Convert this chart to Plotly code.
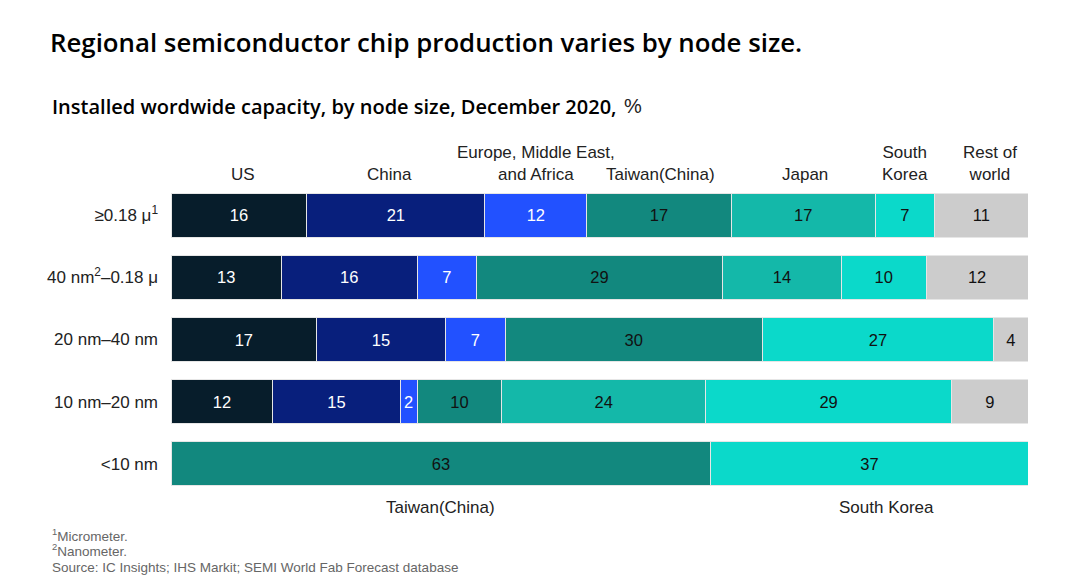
import plotly.graph_objects as go

nodes = ["≥0.18 μ<sup>1</sup>", "40 nm<sup>2</sup>–0.18 μ", "20 nm–40 nm", "10 nm–20 nm", "<10 nm"]
regions = ["US", "China", "Europe, Middle East,<br>and Africa", "Taiwan(China)", "Japan", "South<br>Korea", "Rest of<br>world"]

us = [16, 13, 17, 12, 0]
china = [21, 16, 15, 15, 0]
emea = [12, 7, 7, 2, 0]
taiwan = [17, 29, 30, 10, 63]
japan = [17, 14, 0, 24, 0]
south_korea = [7, 10, 27, 29, 37]
rest_of_world = [11, 12, 4, 9, 0]

footnotes = ["<sup>1</sup>Micrometer.", "<sup>2</sup>Nanometer.",
             "Source: IC Insights; IHS Markit; SEMI World Fab Forecast database"]

series = [us, china, emea, taiwan, japan, south_korea, rest_of_world]
colors = ["#071d2b", "#081f7c", "#2251ff", "#12887e", "#14b8a9", "#0bd9ca", "#cccccc"]
text_colors = ["white", "white", "white", "#111111", "#111111", "#111111", "#111111"]
header_shift = [4, -6, 0, 2, 2, 0, 9]

W, H = 1072, 567  # page adds an 8px body margin
L, R, T, B = 163, 52, 176, 80
pw, ph = W - L - R, H - T - B


def px(x):  # page pixel -> paper x
    return (x - 8 - L) / pw


def py(y):  # page pixel -> paper y
    return (H - B - (y - 8)) / ph


fig = go.Figure()
for name, vals, col, tcol in zip(regions, series, colors, text_colors):
    fig.add_trace(go.Bar(
        y=nodes, x=vals, orientation="h", name=name,
        marker=dict(color=col, line=dict(color="#e6e6e6", width=1)),
        text=[str(v) if v else "" for v in vals],
        textposition="inside", insidetextanchor="middle", textangle=0,
        textfont=dict(color=tcol, size=16.5, family="Liberation Sans"),
        hoverinfo="skip",
    ))

fig.update_layout(
    barmode="stack", barnorm="percent", bargap=0.29,
    width=W, height=H,
    margin=dict(l=L, r=R, t=T, b=B),
    plot_bgcolor="white", paper_bgcolor="white",
    showlegend=False,
    uniformtext=dict(minsize=15, mode="show"),
    font=dict(family="Liberation Sans", color="#222222"),
)
fig.update_xaxes(visible=False, range=[0, 100], fixedrange=True)
fig.update_yaxes(autorange="reversed", showgrid=False, showline=False, ticks="",
                 tickfont=dict(size=17, color="#222222"), ticklabelstandoff=12)

# column headers over the first row
row0 = [s[0] for s in series]
total0 = sum(row0)
cum = 0
for name, v, sh in zip(regions, row0, header_shift):
    mid = (cum + v / 2) / total0 * 100
    cum += v
    fig.add_annotation(x=mid, xref="x", y=1, yref="paper", yanchor="bottom", yshift=-2, xshift=sh,
                       text=name, showarrow=False, font=dict(size=17, color="#222222"))

# labels under the last row
last = [s[4] for s in series]
total_last = sum(last)
cum = 0
for name, v in zip(["US", "China", "EMEA", "Taiwan(China)", "Japan", "South Korea", "Rest"], last):
    if v:
        mid = (cum + v / 2) / total_last * 100
        fig.add_annotation(x=mid, xref="x", y=0, yref="paper", yanchor="top", yshift=-1,
                           xshift=17 if name == "South Korea" else 0,
                           text=name, showarrow=False, font=dict(size=17, color="#222222"))
    cum += v

fig.add_annotation(x=px(48), xref="paper", y=py(42), yref="paper", xanchor="left", yanchor="middle",
                   text="Regional semiconductor chip production varies by node size.",
                   showarrow=False, font=dict(size=25.8, color="#000000", family="Open Sans", weight=600))
fig.add_annotation(x=px(50), xref="paper", y=py(106), yref="paper", xanchor="left", yanchor="middle",
                   text="Installed wordwide capacity, by node size, December 2020,",
                   showarrow=False, font=dict(size=20, color="#000000", family="Open Sans", weight=600))
fig.add_annotation(x=px(622), xref="paper", y=py(106), yref="paper", xanchor="left", yanchor="middle",
                   text="%", showarrow=False, font=dict(size=20, color="#222222", family="Liberation Sans"))
for i, line in enumerate(footnotes):
    fig.add_annotation(x=px(50), xref="paper", y=py([535, 550, 567][i]), yref="paper",
                       xanchor="left", yanchor="middle", text=line, showarrow=False,
                       font=dict(size=13.5, color="#666666"))

fig.write_html("out.html")
